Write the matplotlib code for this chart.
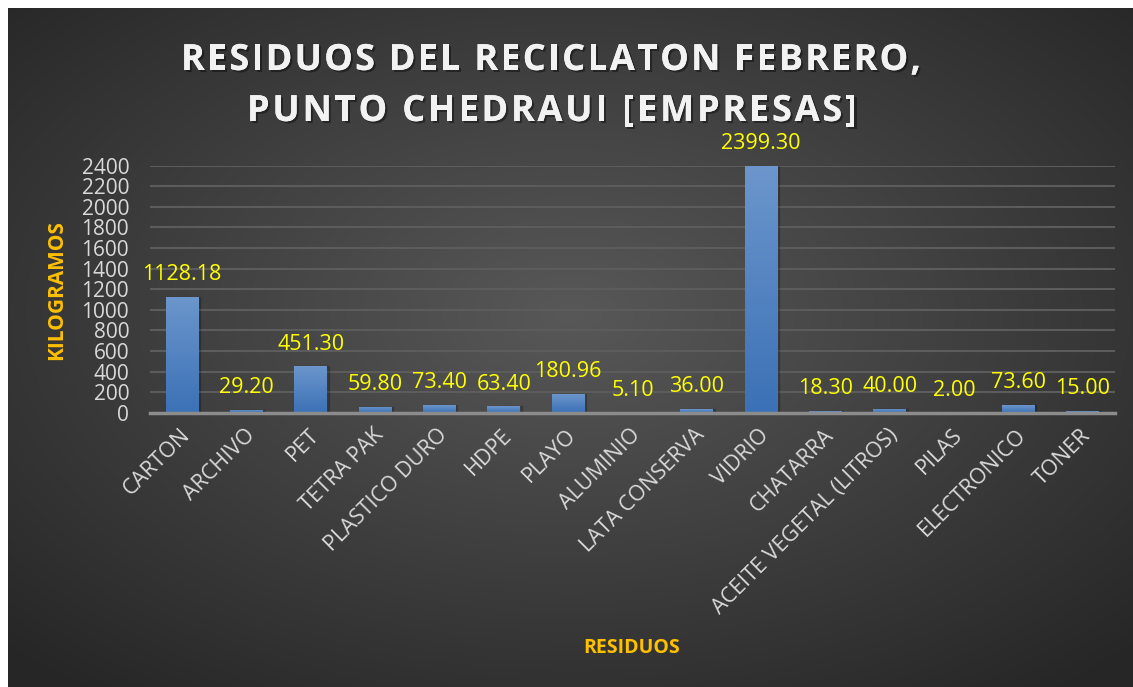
import numpy as np
import matplotlib
matplotlib.use("Agg")
import matplotlib.pyplot as plt
import matplotlib.patheffects as pe
import matplotlib.transforms as mtransforms

categorias = ["CARTON", "ARCHIVO", "PET", "TETRA PAK", "PLASTICO DURO", "HDPE", "PLAYO",
              "ALUMINIO", "LATA CONSERVA", "VIDRIO", "CHATARRA", "ACEITE VEGETAL (LITROS)",
              "PILAS", "ELECTRONICO", "TONER"]
kilos = [1128.18, 29.20, 451.30, 59.80, 73.40, 63.40, 180.96, 5.10, 36.00, 2399.30,
         18.30, 40.00, 2.00, 73.60, 15.00]
y_ticks = list(range(0, 2401, 200))

titulo_1 = "RESIDUOS DEL RECICLATON FEBRERO,"
titulo_2 = "PUNTO CHEDRAUI [EMPRESAS]"

plt.rcParams['font.family'] = ['Open Sans', 'DejaVu Sans']

W, H = 1133, 687
fig = plt.figure(figsize=(W / 100, H / 100), dpi=100, facecolor="white")

# dark panel with radial gradient
bg = fig.add_axes([8 / W, 0, 1 - 8 / W, 1 - 8 / H])
bg.set_axis_off()
yy, xx = np.mgrid[0:1:300j, 0:1:500j]
r = np.sqrt(((xx - 0.5) / 0.75) ** 2 + ((yy - 0.45) / 0.75) ** 2)
r = np.clip(r / 0.95, 0, 1)
c0 = np.array([0x58, 0x58, 0x58]) / 255
c1 = np.array([0x26, 0x26, 0x26]) / 255
img = c0[None, None, :] * (1 - r[..., None]) + c1[None, None, :] * r[..., None]
bg.imshow(img, extent=[0, 1, 0, 1], aspect="auto", origin="upper")
bg.set_xlim(0, 1)
bg.set_ylim(0, 1)

ax = fig.add_axes([150 / W, 1 - 412.7 / H, (1115 - 150) / W, (412.7 - 165.7) / H])
ax.patch.set_alpha(0)

x = np.arange(len(categorias))
bars = ax.bar(x, kilos, width=0.51, color="none", zorder=3)

grad = np.linspace(0, 1, 256)[:, None]
top = np.array([0x6c, 0x96, 0xcc]) / 255
bot = np.array([0x3b, 0x71, 0xb6]) / 255
grad_img = top[None, None, :] * (1 - grad[..., None]) + bot[None, None, :] * grad[..., None]
for b in bars:
    x0, w, h = b.get_x(), b.get_width(), b.get_height()
    shadow = plt.Rectangle((x0 + 0.02, 0), w, h, color="black", alpha=0.18, zorder=2)
    ax.add_patch(shadow)
    im = ax.imshow(grad_img, extent=[x0, x0 + w, 0, h], aspect="auto", zorder=3, origin="upper")
    im.set_clip_path(b)

for xi, v in zip(x, kilos):
    ax.annotate(f"{v:.2f}", (xi, v), xytext=(0, 12), textcoords="offset points",
                ha="center", va="baseline", color="#ffff00", fontsize=15.5, zorder=5)

ax.set_xlim(-0.5, len(categorias) - 0.5)
ax.set_ylim(0, 2400)
ax.set_yticks(y_ticks)
ax.set_yticklabels([str(t) for t in y_ticks], color="#d9d9d9", fontsize=15)
ax.set_xticks(x)
ax.set_xticklabels(categorias, rotation=45, ha="right", rotation_mode="anchor",
                   color="#d9d9d9", fontsize=15.5)
ax.tick_params(axis="both", length=0)
ax.tick_params(axis="y", pad=15)
ax.tick_params(axis="x", pad=14)
shift = mtransforms.ScaledTranslation(5 / 100, 0, fig.dpi_scale_trans)
for lbl in ax.get_xticklabels():
    lbl.set_va("center")
    lbl.set_transform(lbl.get_transform() + shift)

ax.grid(axis="y", color="#5c5c5c", linewidth=1.5, zorder=0)
ax.set_axisbelow(True)
for s in ["top", "right", "left"]:
    ax.spines[s].set_visible(False)
ax.spines["bottom"].set_color("#8c8c8c")
ax.spines["bottom"].set_linewidth(2.5)
ax.spines["bottom"].set_zorder(4)

# title with letter spacing, drawn char by char
shadow_fx = [pe.withSimplePatchShadow(offset=(1.5, -1.5), shadow_rgbFace="black", alpha=0.4), pe.Normal()]
renderer = fig.canvas.get_renderer()


def spaced_title(s, x_left, x_right, y_px, size):
    kw = dict(fontsize=size, fontweight="bold")
    widths = []
    for ch in s:
        t = fig.text(0, 0, ch, **kw)
        wd = t.get_window_extent(renderer).width
        t.remove()
        if ch == " " or wd == 0:
            wd = 0.26 * size * 100 / 72
        widths.append(wd)
    gap = ((x_right - x_left) - sum(widths)) / (len(s) - 1)
    xp = x_left
    for ch, wd in zip(s, widths):
        fig.text(xp / W, 1 - y_px / H, ch, ha="left", va="baseline", color="#f2f2f2",
                 path_effects=shadow_fx, **kw)
        xp += wd + gap


spaced_title(titulo_1, 181, 921, 70, 26)
spaced_title(titulo_2, 247, 857, 121, 26)

fig.text(57 / W, 1 - 290 / H, "KILOGRAMOS", rotation=90, ha="center", va="center",
         color="#ffc000", fontsize=15, fontweight="bold")
fig.text(632 / W, 1 - 648 / H, "RESIDUOS", ha="center", va="center",
         color="#ffc000", fontsize=14, fontweight="bold")

fig.savefig("out.png", dpi=100, facecolor="white")
